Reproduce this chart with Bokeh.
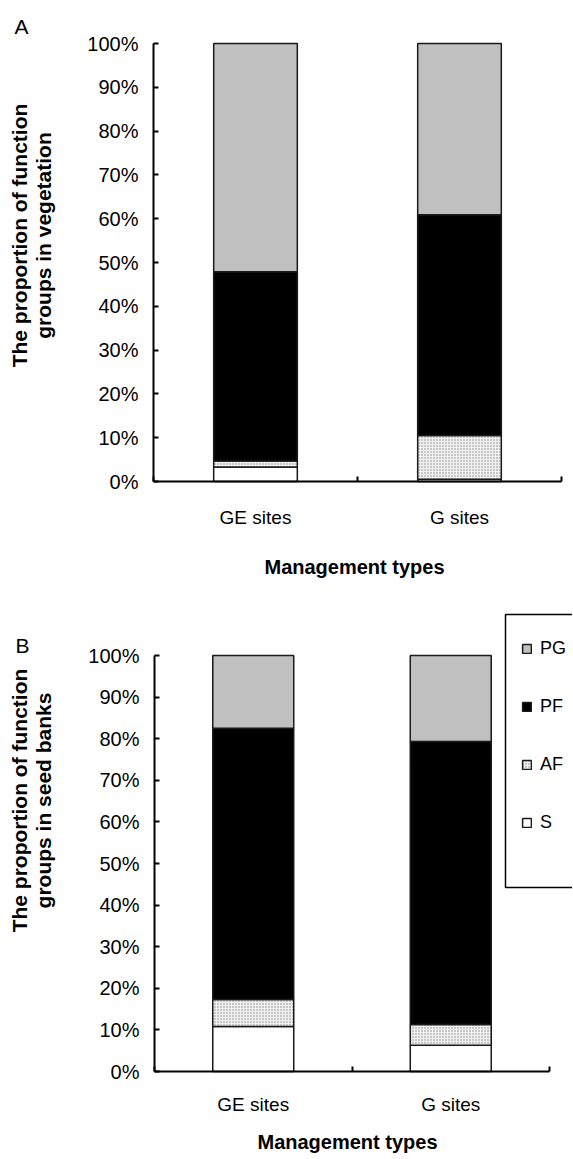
import math
from bokeh.plotting import figure
from bokeh.layouts import column
from bokeh.models import Range1d, FixedTicker, Label, Legend, LegendItem, BoxAnnotation
from bokeh.embed import file_html
from bokeh.resources import INLINE

# ---------------- data ----------------
categories = ["GE sites", "G sites"]
groups = ["S", "AF", "PF", "PG"]
legend_order = ["PG", "PF", "AF", "S"]

veg_S = [3.3, 0.5]
veg_AF = [1.4, 10.0]
veg_PF = [43.2, 50.4]
veg_PG = [52.1, 39.1]

seed_S = [10.8, 6.3]
seed_AF = [6.5, 5.0]
seed_PF = [65.2, 68.0]
seed_PG = [17.5, 20.7]

y_ticks = list(range(0, 101, 10))
y_tick_labels = [f"{t}%" for t in y_ticks]

x_title = "Management types"
veg_title = ["The proportion of function", "groups in vegetation"]
seed_title = ["The proportion of function", "groups in seed banks"]

# ---------------- style ----------------
SANS = "Liberation Sans"
OUT = "#1a1a1a"
styles = {
    "S": dict(fill_color="white"),
    "AF": dict(fill_color="#f0f0f0", hatch_pattern="dot", hatch_color="#8a8a8a",
               hatch_scale=3, hatch_weight=1),
    "PF": dict(fill_color="black"),
    "PG": dict(fill_color="#c0c0c0"),
}
FIG_W = 572
YT_SIZE = 21      # y title font size
XT_SIZE = 20      # x title font size
LT_SIZE = 21      # panel letter font size


def mid(base, size):
    # vertical middle of the text line from its baseline
    return base - 0.35 * size


def make_panel(series, letter, title_lines, page_top, fig_h, ax_x, ax_y0, ax_y100,
               ppx, title_cy, xt_base, xt_cx, letter_xy, xstand, legend=None):
    # geometry (page pixels) -> data ranges; the frame fills the whole figure
    ppy = (ax_y0 - ax_y100) / 100.0
    y0_px = ax_y0 - page_top
    xr = Range1d(-ax_x / ppx, (FIG_W - ax_x) / ppx)
    yr = Range1d(-(fig_h - y0_px) / ppy, y0_px / ppy)

    def dx(px):
        return (px - ax_x) / ppx

    def dy(py):
        return (ax_y0 - py) / ppy

    p = figure(width=FIG_W, height=fig_h, output_backend="svg", toolbar_location=None,
               x_range=xr, y_range=yr, min_border=0)
    p.outline_line_color = None
    p.grid.visible = False
    p.background_fill_color = "white"
    p.border_fill_color = "white"

    n = len(categories)
    xs = [2 * i + 1 for i in range(n)]
    bottom = [0.0] * n
    rends = {}
    for g in groups:
        vals = series[g]
        top = [b + v for b, v in zip(bottom, vals)]
        rends[g] = p.vbar(x=xs, bottom=bottom, top=top, width=0.82,
                          line_color=OUT, line_width=1.5, **styles[g])
        bottom = top

    # x axis
    xa = p.xaxis[0]
    xa.fixed_location = 0
    xa.bounds = (0, 2 * n)
    xa.ticker = FixedTicker(ticks=xs, minor_ticks=list(range(0, 2 * n + 1, 2)))
    xa.major_label_overrides = {x: c for x, c in zip(xs, categories)}
    xa.major_tick_in = 0
    xa.major_tick_out = 0
    xa.minor_tick_in = 5
    xa.minor_tick_out = 0
    xa.minor_tick_line_width = 2
    xa.minor_tick_line_color = "black"
    xa.axis_line_width = 2
    xa.axis_line_color = "black"
    xa.major_label_text_font = SANS
    xa.major_label_text_font_size = "19px"
    xa.major_label_text_color = "black"
    xa.major_label_standoff = xstand

    ya = p.yaxis[0]
    ya.fixed_location = 0
    ya.bounds = (0, 100)
    ya.ticker = FixedTicker(ticks=y_ticks)
    ya.major_label_overrides = {t: l for t, l in zip(y_ticks, y_tick_labels)}
    ya.major_tick_in = 5
    ya.major_tick_out = 0
    ya.major_tick_line_width = 2
    ya.minor_tick_line_color = None
    ya.axis_line_width = 2
    ya.axis_line_color = "black"
    ya.major_label_text_font = SANS
    ya.major_label_text_font_size = "20px"
    ya.major_label_text_color = "black"
    ya.major_label_standoff = 15

    # y title (two rotated lines); baselines at x = 26 and 50.5 px
    for bx, txt in zip((26, 50.5), title_lines):
        p.add_layout(Label(x=dx(mid(bx, YT_SIZE)), y=dy(title_cy), text=txt,
                           angle=math.pi / 2, text_align="center",
                           text_baseline="middle", text_font=SANS,
                           text_font_style="bold", text_font_size=f"{YT_SIZE}px",
                           text_color="black"))
    # x title
    p.add_layout(Label(x=dx(xt_cx), y=dy(mid(xt_base, XT_SIZE)), text=x_title,
                       text_align="center", text_baseline="middle", text_font=SANS,
                       text_font_style="bold", text_font_size=f"{XT_SIZE}px",
                       text_color="black"))
    # panel letter
    p.add_layout(Label(x=dx(letter_xy[0]), y=dy(mid(letter_xy[1], LT_SIZE)), text=letter,
                       text_align="left", text_baseline="middle",
                       text_font=SANS, text_font_size=f"{LT_SIZE}px", text_color="black"))

    if legend is not None:
        bl, bt, bb, gx, last_c = legend
        p.add_layout(BoxAnnotation(left=bl, right=FIG_W + 20,
                                   top=fig_h - (bt - page_top),
                                   bottom=fig_h - (bb - page_top),
                                   left_units="screen", right_units="screen",
                                   top_units="screen", bottom_units="screen",
                                   fill_color="white", fill_alpha=1,
                                   line_color="black", line_alpha=1, line_width=1.5))
        items = [LegendItem(label=g, renderers=[rends[g]]) for g in legend_order]
        lg = Legend(items=items, location=(gx, fig_h - (last_c + 11.5 - page_top)),
                    glyph_width=11, glyph_height=11, label_height=23, spacing=35,
                    padding=0, margin=0, label_standoff=8, border_line_color=None,
                    background_fill_alpha=0, label_text_font=SANS,
                    label_text_font_size="18px", label_text_color="black")
        p.add_layout(lg)
    return p


pA = make_panel({"S": veg_S, "AF": veg_AF, "PF": veg_PF, "PG": veg_PG}, "A",
                veg_title, page_top=0, fig_h=600, ax_x=153, ax_y0=481, ax_y100=43,
                ppx=102, title_cy=235, xt_base=573, xt_cx=354, letter_xy=(14, 33),
                xstand=25)
pB = make_panel({"S": seed_S, "AF": seed_AF, "PF": seed_PF, "PG": seed_PG}, "B",
                seed_title, page_top=600, fig_h=559, ax_x=154, ax_y0=1071, ax_y100=655,
                ppx=98.75, title_cy=800, xt_base=1148, xt_cx=347, letter_xy=(15, 652),
                xstand=22, legend=(505, 614, 887, 521, 822))

layout = column(pA, pB, spacing=0)
open("out.html", "w").write(file_html(layout, INLINE))
